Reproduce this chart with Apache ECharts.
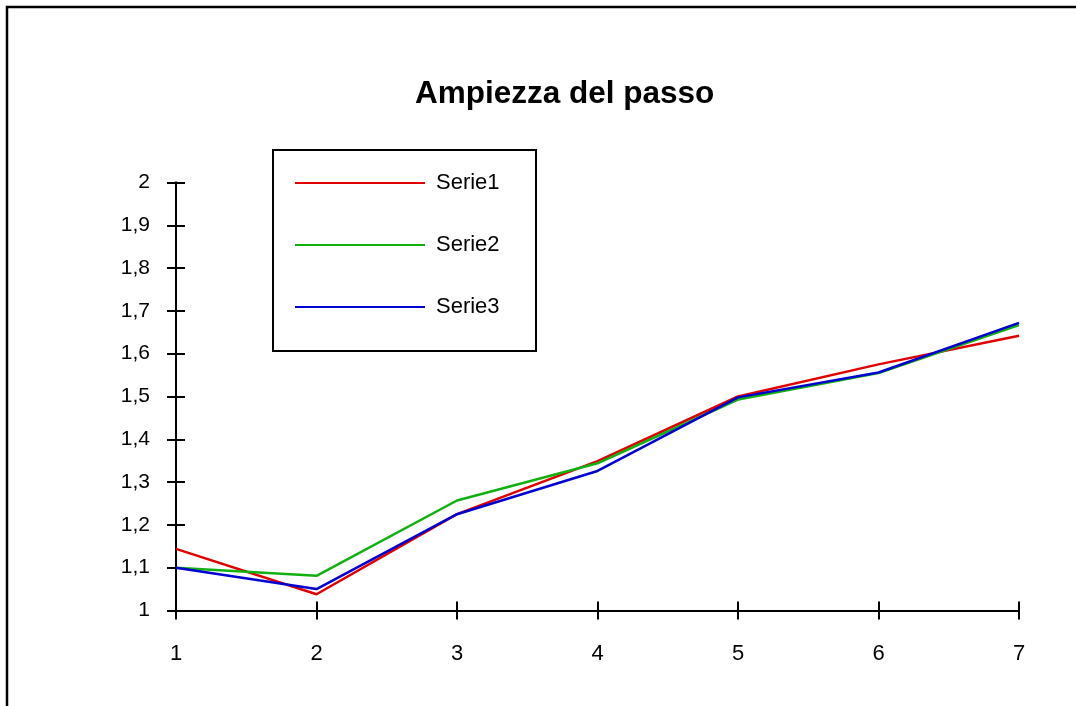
<!DOCTYPE html>
<html>
<head>
<meta charset="utf-8">
<script src="https://cdn.jsdelivr.net/npm/echarts@6/dist/echarts.min.js"></script>
<style>
  html, body { margin: 0; padding: 0; background: #fff; }
  #chart { width: 1076px; height: 706px; }
</style>
</head>
<body>
<div id="chart"></div>
<script>
// Step length per trial
const categories = [1, 2, 3, 4, 5, 6, 7];
const serie1 = [1.144, 1.038, 1.225, 1.349, 1.500, 1.575, 1.642];
const serie2 = [1.100, 1.081, 1.257, 1.344, 1.493, 1.555, 1.667];
const serie3 = [1.100, 1.050, 1.225, 1.326, 1.498, 1.556, 1.672];
const seriesNames = ['Serie1', 'Serie2', 'Serie3'];
const seriesColors = ['#e00000', '#11b011', '#0000d0'];

const FONT = 'Liberation Sans, Arial, sans-serif';
const toPairs = vals => vals.map((v, i) => [categories[i], v]);
const comma = v => String(Math.round(v * 10) / 10).replace('.', ',');

const chart = echarts.init(document.getElementById('chart'));

const baseX = {
  type: 'value', min: 1, max: 7, interval: 1,
  splitLine: { show: false },
  axisLine: { lineStyle: { color: '#000', width: 2 } }
};
const baseY = {
  type: 'value', min: 1, max: 2, interval: 0.1,
  splitLine: { show: false },
  axisLine: { lineStyle: { color: '#000', width: 2 } }
};

chart.setOption({
  animation: false,
  backgroundColor: '#fff',
  title: {
    text: 'Ampiezza del passo',
    left: 410, top: 73,
    textStyle: { fontFamily: FONT, fontSize: 31.5, fontWeight: 'bold', color: '#000' }
  },
  legend: {
    orient: 'vertical',
    left: 290, top: 167,
    padding: 5,
    itemWidth: 130, itemHeight: 14, itemGap: 40,
    icon: 'path://M0,6 L130,6 L130,8 L0,8 Z',
    textStyle: { fontFamily: FONT, fontSize: 22, color: '#000', padding: [0, 0, 0, 6] },
    data: seriesNames
  },
  grid: { left: 176, right: 57, top: 182.5, bottom: 95.5 },
  xAxis: [
    Object.assign({}, baseX, {
      axisTick: { show: true, length: 9, lineStyle: { color: '#000', width: 2 } },
      axisLabel: { margin: 32, fontFamily: FONT, fontSize: 22, color: '#000' }
    }),
    Object.assign({}, baseX, {
      position: 'bottom',
      axisTick: { show: true, inside: true, length: 9, lineStyle: { color: '#000', width: 2 } },
      axisLabel: { show: false }
    })
  ],
  yAxis: [
    Object.assign({}, baseY, {
      axisTick: { show: true, length: 9, lineStyle: { color: '#000', width: 2 } },
      axisLabel: { margin: 26, fontFamily: FONT, fontSize: 21, color: '#000', formatter: comma }
    }),
    Object.assign({}, baseY, {
      position: 'left',
      axisTick: { show: true, inside: true, length: 9, lineStyle: { color: '#000', width: 2 } },
      axisLabel: { show: false }
    })
  ],
  series: [serie1, serie2, serie3].map((vals, i) => ({
    name: seriesNames[i],
    type: 'line',
    data: toPairs(vals),
    showSymbol: false,
    symbol: 'none',
    color: seriesColors[i],
    lineStyle: { color: seriesColors[i], width: 2.5 },
    z: 3 + i
  })),
  graphic: [
    {
      type: 'rect', silent: true,
      shape: { x: 7, y: 7, width: 1100, height: 760 },
      style: { fill: 'none', stroke: '#000', lineWidth: 2.5 }
    },
    {
      type: 'rect', silent: true,
      shape: { x: 273, y: 150, width: 263, height: 201 },
      style: { fill: 'none', stroke: '#000', lineWidth: 2 }
    }
  ]
});
</script>
</body>
</html>
